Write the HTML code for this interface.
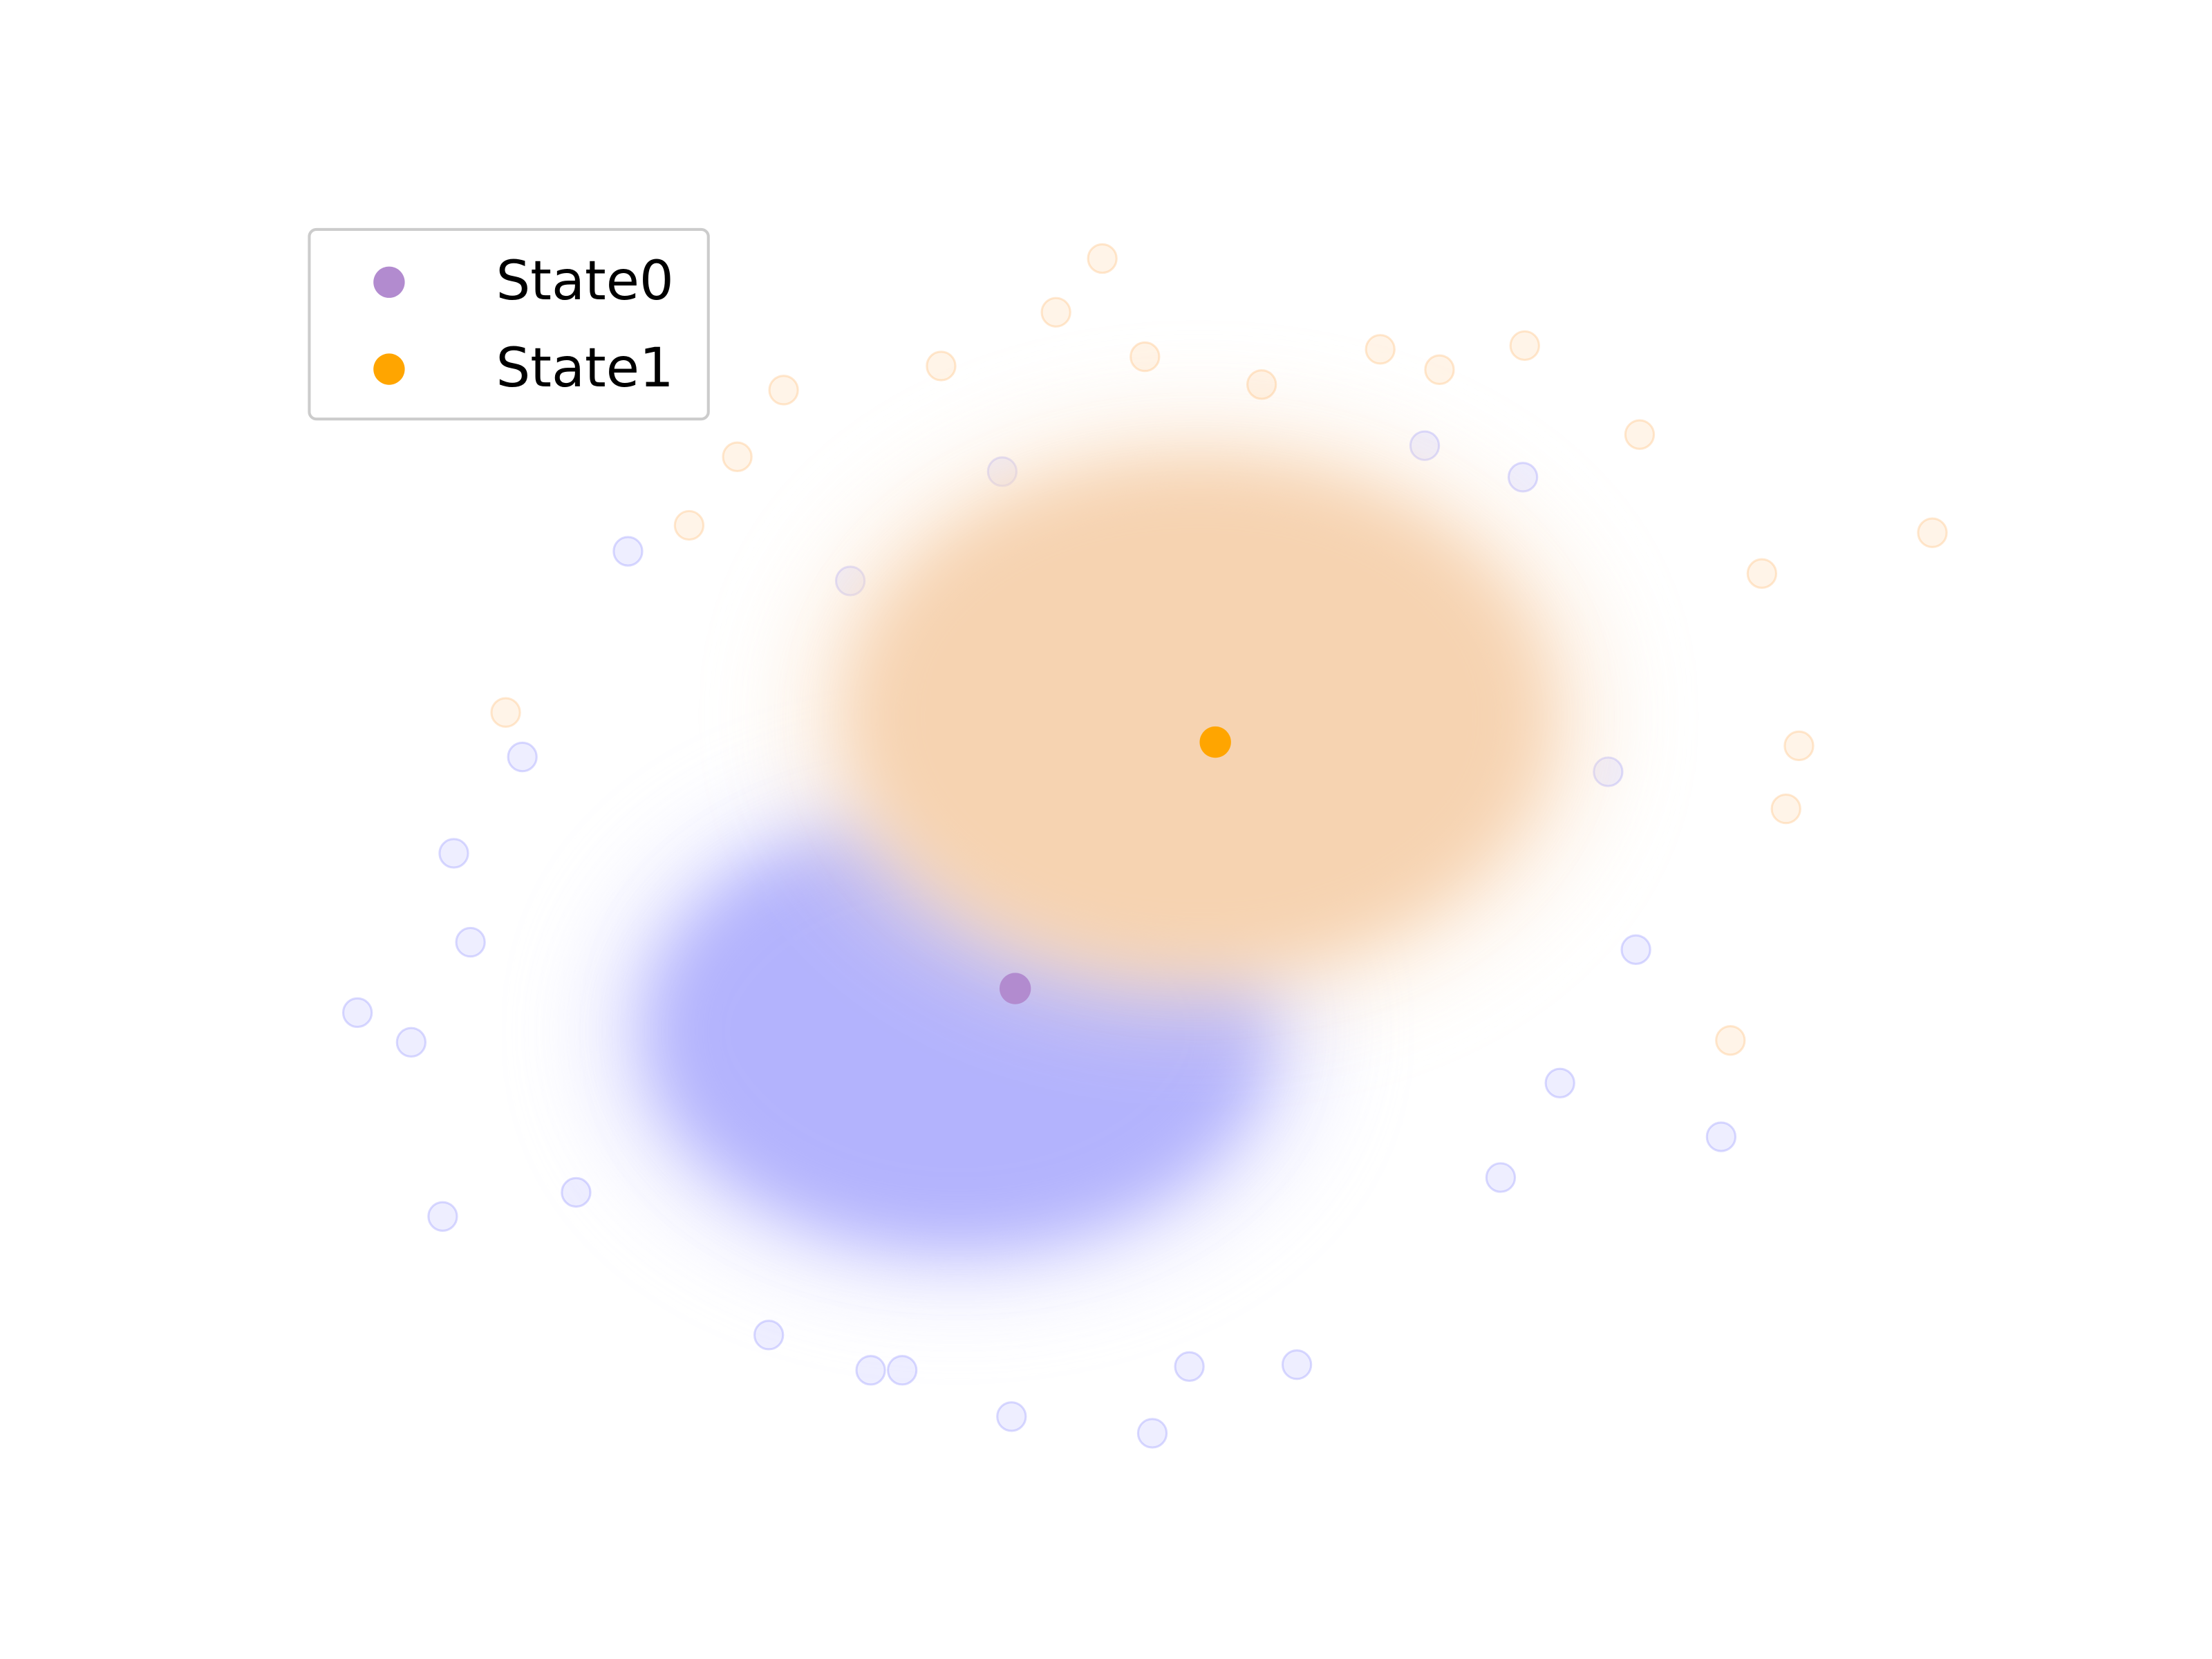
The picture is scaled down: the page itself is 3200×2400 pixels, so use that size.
<!DOCTYPE html>
<html>
<head>
<meta charset="utf-8">
<style>
html,body{margin:0;padding:0;background:#fff;}
svg{display:block;}
</style>
</head>
<body>
<svg id="chart" width="3200" height="2400" viewBox="0 0 1552 1164" xmlns="http://www.w3.org/2000/svg">
  <defs>
    <filter id="blurBig" x="-50%" y="-50%" width="200%" height="200%"><feGaussianBlur stdDeviation="35"/></filter>
    <filter id="blurMid" x="-50%" y="-50%" width="200%" height="200%"><feGaussianBlur stdDeviation="22"/></filter>
  </defs>
  <g id="plot"></g>
  <g id="legend">
    <rect x="217" y="161" width="280" height="133" rx="5" ry="5" fill="#fff" fill-opacity="0.8" stroke="#cccccc" stroke-width="2"/>
    <circle cx="273" cy="198" r="11" fill="#b28bcf"/>
    <text x="348" y="210" font-family="DejaVu Sans, Liberation Sans, sans-serif" font-size="38" fill="#000">State0</text>
    <circle cx="273" cy="259" r="11" fill="#ffa500"/>
    <text x="348" y="271" font-family="DejaVu Sans, Liberation Sans, sans-serif" font-size="38" fill="#000">State1</text>
  </g>
</svg>
<script>
// data units; axes are hidden
const clusterNames = ["State0", "State1"];
const clusterCenterX = [-0.8, 0.5];
const clusterCenterY = [-0.95, 0.75];
const clusterSpreadX = [1.65, 1.85];
const clusterSpreadY = [1.15, 1.35];
const centroidX = [-0.49, 0.59];
const centroidY = [-0.72, 0.61];
const state0OutlierX = [-4.04,-3.52,-3.75,-3.58,-3.15,-2.58,-0.51,0.25,1.03,3.32,2.86,2.71,1.72,2.25,-0.56,-1.38,0.45,-1.1,-1.27,-1.82,2.13,2.45,-3.43,-2.86];
const state0OutlierY = [-0.85,0.01,-1.01,-1.95,0.53,1.64,-3.03,-3.12,-2.75,-1.52,-0.51,0.45,2.21,2.04,2.07,1.48,-2.76,-2.78,-2.78,-2.59,-1.74,-1.23,-0.47,-1.82];
const state1OutlierX = [-0.02,-0.27,0.21,1.48,2.26,4.46,3.74,3.67,3.37,3.54,-1.74,-1.99,-3.24,-2.25,2.88,1.8,-0.89,0.84];
const state1OutlierY = [3.22,2.93,2.69,2.73,2.75,1.74,0.59,0.25,-1.0,1.52,2.51,2.15,0.77,1.78,2.27,2.62,2.64,2.54];

const xs = v => 776 + v * 130;
const ys = v => 600 - v * 130;
const sx = v => v * 130;
const NS = "http://www.w3.org/2000/svg";
const plot = document.getElementById("plot");
const cloudColors = ["#b3b3fd", "#f6d3b1"];
const haloColors = ["#d4d4fe", "#fae2cb"];
const ptFill = ["rgba(170,170,255,0.2)", "rgba(255,200,140,0.2)"];
const ptStroke = ["rgba(150,150,255,0.35)", "rgba(255,190,120,0.35)"];

function addOutliers(X, Y, k) {
  for (let i = 0; i < X.length; i++) {
    const c = document.createElementNS(NS, "circle");
    
    
    c.setAttribute("cx", xs(X[i])); c.setAttribute("cy", ys(Y[i]));
    c.setAttribute("r", 10);
    c.setAttribute("fill", ptFill[k]); c.setAttribute("stroke", ptStroke[k]); c.setAttribute("stroke-width", 1.5);
    plot.appendChild(c);
  }
}
for (let k = 0; k < 2; k++) {
  const halo = document.createElementNS(NS, "ellipse");
  
  
  halo.setAttribute("cx", xs(clusterCenterX[k])); halo.setAttribute("cy", ys(clusterCenterY[k]));
  halo.setAttribute("rx", sx(clusterSpreadX[k]) * 1.15); halo.setAttribute("ry", sx(clusterSpreadY[k]) * 1.15);
  halo.setAttribute("fill", haloColors[k]); halo.setAttribute("opacity", 0.8);
  halo.setAttribute("filter", "url(#blurBig)");
  plot.appendChild(halo);
  const core = document.createElementNS(NS, "ellipse");
  
  
  core.setAttribute("cx", xs(clusterCenterX[k])); core.setAttribute("cy", ys(clusterCenterY[k]));
  core.setAttribute("rx", sx(clusterSpreadX[k])); core.setAttribute("ry", sx(clusterSpreadY[k]));
  core.setAttribute("fill", cloudColors[k]);
  core.setAttribute("filter", "url(#blurMid)");
  plot.appendChild(core);
  addOutliers(k === 0 ? state0OutlierX : state1OutlierX, k === 0 ? state0OutlierY : state1OutlierY, k);
}
const cColors = ["#b28bcf", "#ffa500"];
for (let k = 0; k < 2; k++) {
  const c = document.createElementNS(NS, "circle");
  
  
  c.setAttribute("cx", xs(centroidX[k])); c.setAttribute("cy", ys(centroidY[k]));
  c.setAttribute("r", 11); c.setAttribute("fill", cColors[k]);
  plot.appendChild(c);
}
</script>
</body>
</html>
